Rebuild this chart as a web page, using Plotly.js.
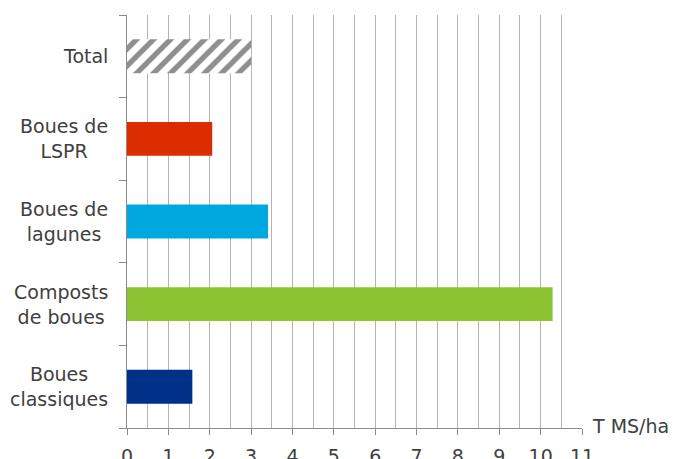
<!DOCTYPE html>
<html>
<head>
<meta charset="utf-8">
<script src="https://cdn.plot.ly/plotly-3.0.1.min.js"></script>
<style>
html,body{margin:0;padding:0;background:#fff;}
#chart{width:687px;height:459px;}
</style>
</head>
<body>
<div id="chart"></div>
<script>
// Data (bottom to top)
var categories = ["Boues classiques", "Composts de boues", "Boues de lagunes", "Boues de LSPR", "Total"];
var labelTexts = ["Boues<br>classiques", "Composts<br>de boues", "Boues de<br>lagunes", "Boues de<br>LSPR", "Total"];
var values = [1.58, 10.29, 3.41, 2.06, 3.0];
var barColors = ["#003189", "#8dc434", "#00a8e0", "#dc2d00", "#ffffff"];
var hatched = [false, false, false, false, true];
var hatchColor = "#8f8f8f";
var xTickVals = [0,1,2,3,4,5,6,7,8,9,10,11];
var unitLabel = "T MS/ha";

var FONT = "DejaVu Sans, Verdana, sans-serif";

function pick(arr, wantHatched){
  return arr.filter(function(_, i){ return hatched[i] === wantHatched; });
}

var solidTrace = {
  type: "bar",
  orientation: "h",
  y: pick(categories, false),
  x: pick(values, false),
  width: 0.41,
  marker: {color: pick(barColors, false), line: {width: 0}},
  hoverinfo: "x+y"
};

var hatchTrace = {
  type: "bar",
  orientation: "h",
  y: pick(categories, true),
  x: pick(values, true),
  width: 0.41,
  marker: {
    color: pick(barColors, true)[0],
    line: {width: 0},
    pattern: {
      shape: "/",
      fillmode: "replace",
      fgcolor: hatchColor,
      bgcolor: "#ffffff",
      fgopacity: 1,
      size: 12,
      solidity: 0.45
    }
  },
  hoverinfo: "x+y"
};

var annotations = categories.map(function(c, i){
  return {
    xref: "paper", yref: "y",
    x: 0, y: c,
    xanchor: "right", yanchor: "middle",
    xshift: -17,
    align: "center",
    text: labelTexts[i],
    showarrow: false,
    font: {family: FONT, size: 19, color: "#404040"}
  };
});
annotations.push({
  xref: "paper", yref: "paper",
  x: 1, y: 0,
  xanchor: "left", yanchor: "middle",
  xshift: 8, yshift: 2,
  text: unitLabel,
  showarrow: false,
  font: {family: FONT, size: 19, color: "#404040"}
});

var layout = {
  width: 687, height: 459,
  margin: {l: 127, r: 105, t: 15, b: 31},
  paper_bgcolor: "#ffffff",
  plot_bgcolor: "#ffffff",
  showlegend: false,
  barmode: "overlay",
  xaxis: {
    range: [0, 11],
    tickvals: xTickVals,
    ticks: "outside",
    ticklen: 6,
    tickcolor: "#8c8c8c",
    tickwidth: 1,
    showgrid: true,
    gridcolor: "#b4b4b4",
    gridwidth: 1,
    minor: {dtick: 0.5, tick0: 0, showgrid: true, gridcolor: "#b4b4b4", gridwidth: 1, ticks: ""},
    showline: true,
    linecolor: "#8c8c8c",
    linewidth: 1,
    zeroline: false,
    tickfont: {family: FONT, size: 19, color: "#404040"},
    ticklabelstandoff: 5,
    fixedrange: true
  },
  yaxis: {
    type: "category",
    categoryorder: "array",
    categoryarray: categories,
    range: [-0.5, 4.5],
    showticklabels: false,
    ticks: "outside",
    tickson: "boundaries",
    ticklen: 7,
    tickcolor: "#8c8c8c",
    showgrid: false,
    showline: true,
    linecolor: "#8c8c8c",
    linewidth: 1,
    zeroline: false,
    fixedrange: true
  },
  annotations: annotations
};

Plotly.newPlot("chart", [solidTrace, hatchTrace], layout, {displayModeBar: false, staticPlot: true});
</script>
</body>
</html>
